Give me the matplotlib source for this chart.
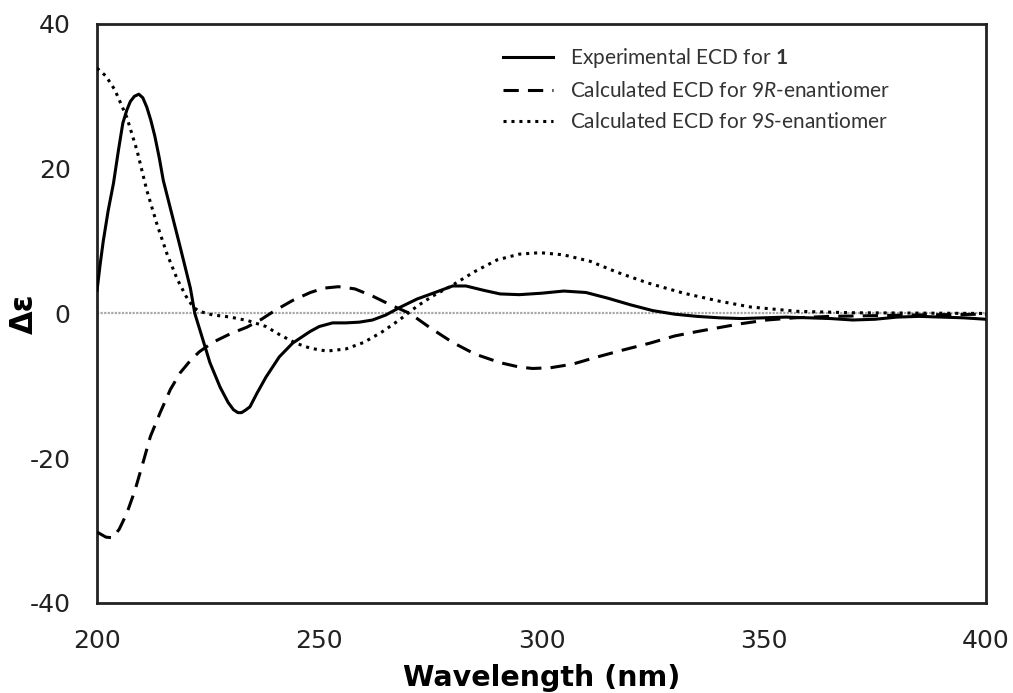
import matplotlib
matplotlib.use("Agg")
import matplotlib.pyplot as plt

plt.rcParams['mathtext.fontset'] = 'custom'
plt.rcParams['mathtext.rm'] = 'Lato'
plt.rcParams['mathtext.it'] = 'Lato:italic'
plt.rcParams['mathtext.bf'] = 'Lato:bold'
plt.rcParams['axes.unicode_minus'] = False

# experimental ECD for 1
exp_x = [200, 200.7, 201.4, 202.5, 203.7, 204.8, 205.8, 206.7, 207.5, 208.4, 209.4, 210.3, 211.2,
         212.1, 213, 214, 214.9, 216.8, 218.7, 221, 222,
         224, 225.4, 227.7, 229.5, 230.7, 231.7, 232.5, 233.3, 234.4, 236, 238, 241, 244, 247.9, 250, 253,
         256, 259, 262, 265, 268, 272, 275.6, 280, 283, 287, 290.7, 295, 300, 305, 310, 315,
         320, 325, 330, 335, 340, 345, 350, 355, 360, 365, 370, 375, 380, 385, 390, 395, 400]
exp_y = [3.2, 6.8, 10, 14.2, 18, 22.5, 26.3, 28.1, 29.3, 30.0, 30.3, 29.8, 28.5,
         26.7, 24.5, 21.5, 18.4, 13.8, 9.2, 3.5, 0,
         -4, -6.8, -10.2, -12.3, -13.3, -13.7, -13.7, -13.4, -12.9, -11, -8.8, -6, -4.1, -2.5, -1.8, -1.3,
         -1.3, -1.2, -0.9, -0.2, 0.8, 2, 2.8, 3.8, 3.8, 3.2, 2.7, 2.6, 2.8, 3.1, 2.9, 2.1,
         1.2, 0.4, -0.1, -0.4, -0.6, -0.7, -0.6, -0.5, -0.6, -0.7, -0.9, -0.8, -0.5, -0.4, -0.5, -0.6, -0.8]

# calculated ECD, 9R
r_x = [200, 202, 203.5, 205, 206.7, 208.5, 210.3, 212, 214.2, 216.5, 218.7, 221, 223, 226,
       230, 233.7, 237, 240, 244, 248, 251, 254.3, 258, 262, 266, 270.4, 275, 280, 285,
       290.7, 295, 298, 302, 307, 312, 318, 324.4, 330, 335, 339.5, 345, 350.7, 357, 365,
       375, 385, 400]
r_y = [-30.2, -30.9, -31, -29.8, -27.6, -24.5, -20.7, -17, -13.7, -10.5, -8.2, -6.5, -5.3, -4,
       -2.8, -1.9, -0.8, 0.4, 1.8, 2.9, 3.5, 3.7, 3.4, 2.4, 1.2, 0, -2, -4, -5.6,
       -6.8, -7.4, -7.6, -7.5, -7, -6.1, -5.1, -4.1, -3.1, -2.5, -2, -1.4, -0.9, -0.6, -0.4,
       -0.3, -0.2, -0.1]

# calculated ECD, 9S
s_x = [200, 202, 204, 206.7, 209, 211.2, 213.5, 215.7, 218, 220, 221.6, 223, 226, 230, 234,
       238, 241, 244.7, 248, 251.7, 256, 260, 264, 268, 272, 275.5, 279.4, 285, 290, 295,
       299.7, 305, 311, 317, 324, 332, 340, 347, 357.5, 370, 385, 400]
s_y = [33.9, 32.8, 30.9, 27.1, 22.5, 17, 12.3, 8.3, 4.8, 2.4, 0.9, 0.3, -0.2, -0.5, -1,
       -1.8, -2.9, -4.1, -4.8, -5.2, -4.9, -4, -2.6, -0.9, 1, 2.4, 3.7, 5.8, 7.4, 8.2,
       8.4, 8.1, 7.2, 5.7, 4.2, 2.8, 1.7, 0.9, 0.3, 0.1, 0.05, 0]

labels = ['Experimental ECD for $\\mathbf{1}$',
          'Calculated ECD for 9$\\mathit{R}$-enantiomer',
          'Calculated ECD for 9$\\mathit{S}$-enantiomer']

fig = plt.figure(figsize=(10.13, 6.93), dpi=100)
ax = fig.add_axes([0.0958, 0.1299, 0.8775, 0.8355])

ax.axhline(0, color='#a8a8a8', lw=1.6, ls=(0, (1, 0.6)), zorder=1)
ax.plot(exp_x, exp_y, color='black', lw=2.2, label=labels[0], zorder=3)
ax.plot(r_x, r_y, color='black', lw=2.2, ls=(0, (5, 3)), label=labels[1], zorder=3)
ax.plot(s_x, s_y, color='black', lw=2.2, ls=(0, (1, 1.6)), label=labels[2], zorder=3)

ax.set_xlim(200, 400)
ax.set_ylim(-40, 40)
ax.set_xticks([200, 250, 300, 350, 400])
ax.set_yticks([-40, -20, 0, 20, 40])
ax.tick_params(length=0, labelsize=18, colors='#222222')
ax.tick_params(axis='x', pad=19)
ax.tick_params(axis='y', pad=19)
for sp in ax.spines.values():
    sp.set_linewidth(2)
    sp.set_color('#222222')

ax.set_xlabel('Wavelength (nm)', fontsize=20.5, fontweight='bold', labelpad=8)
ax.set_ylabel('Δε', fontsize=22, fontweight='bold')
ax.yaxis.set_label_coords(-0.066, 0.5)

leg = ax.legend(loc='upper left', bbox_to_anchor=(0.457, 0.962), frameon=False,
                borderpad=0, borderaxespad=0,
                prop={'family': 'Lato', 'size': 15}, handlelength=2.4,
                handletextpad=0.8, labelspacing=0.54)
for t in leg.get_texts():
    t.set_color('#333333')

fig.savefig('out.png', dpi=100)
